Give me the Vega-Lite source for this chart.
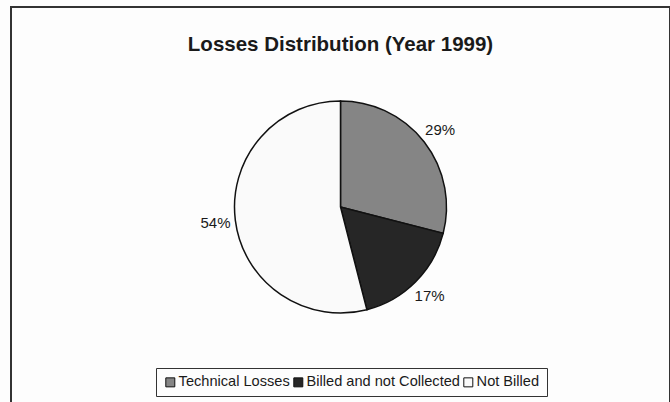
{
  "$schema": "https://vega.github.io/schema/vega-lite/v6.json",
  "autosize": {"type": "none"},
  "padding": {"left": 11, "top": 7, "right": 0, "bottom": 0},
  "width": 659,
  "height": 400,
  "background": "#fdfdfd",
  "view": {"stroke": "#333333", "strokeWidth": 2, "fill": "#fdfdfd"},
  "title": {
    "text": "Losses Distribution (Year 1999)",
    "font": "Liberation Sans",
    "fontSize": 20.5,
    "fontWeight": "bold",
    "color": "#1a1a1a",
    "anchor": "middle",
    "offset": -48
  },
  "data": {
    "values": [
      {"category": "Technical Losses", "share": 29, "label": "29%", "rank": 1},
      {"category": "Billed and not Collected", "share": 17, "label": "17%", "rank": 2},
      {"category": "Not Billed", "share": 54, "label": "54%", "rank": 3}
    ]
  },
  "encoding": {
    "theta": {"field": "share", "type": "quantitative", "stack": true},
    "order": {"field": "rank", "type": "quantitative", "sort": "ascending"},
    "color": {
      "field": "category",
      "type": "nominal",
      "sort": ["Technical Losses", "Billed and not Collected", "Not Billed"],
      "scale": {
        "domain": ["Technical Losses", "Billed and not Collected", "Not Billed"],
        "range": ["#858585", "#262626", "#fafafa"]
      },
      "legend": {
        "title": null,
        "orient": "none",
        "direction": "horizontal",
        "legendX": 145,
        "legendY": 361,
        "padding": 7,
        "strokeColor": "#333333",
        "symbolType": "square",
        "symbolSize": 81,
        "symbolStrokeColor": "#111111",
        "symbolStrokeWidth": 1,
        "symbolOpacity": 1,
        "labelFont": "Liberation Sans",
        "labelFontSize": 14.6,
        "labelColor": "#1a1a1a",
        "labelOffset": 1,
        "labelLimit": 400,
        "columnPadding": 1
      }
    }
  },
  "layer": [
    {
      "mark": {"type": "arc", "outerRadius": 106, "stroke": "#111111", "strokeWidth": 1.5}
    },
    {
      "mark": {"type": "text", "radius": 126, "font": "Liberation Sans", "fontSize": 15, "fill": "#1a1a1a"},
      "encoding": {
        "text": {"field": "label"}
      }
    }
  ]
}
